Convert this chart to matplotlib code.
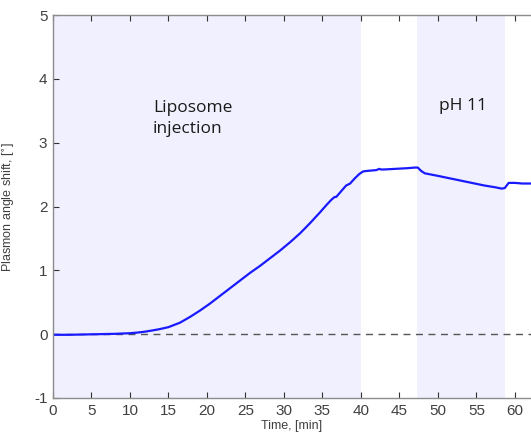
import numpy as np
import matplotlib
matplotlib.use("Agg")
import matplotlib.pyplot as plt

# plasmon angle shift trace, read in minutes / degrees
time_min = [0, 2, 4, 6, 8, 9, 10, 11, 12, 13, 13.9, 15, 16.5, 17.8, 19.1, 20.4, 21.7, 23.0,
            24.3, 25.6, 26.9, 28.2, 29.5, 30.8, 32.1, 33.4, 34.7, 35.5, 36.2, 36.6, 36.8,
            37.3, 37.8, 38.1, 38.6, 39.2, 39.8, 40.3, 41.0, 42.0, 42.4, 42.6, 43.0, 44.5,
            46.0, 47.0, 47.4, 47.8, 48.3, 50.0, 52.0, 54.0, 56.0, 57.5, 58.3, 58.7, 59.2,
            60.0, 61.0, 62.1]
shift_deg = [-0.01, -0.01, -0.005, 0.0, 0.005, 0.01, 0.015, 0.025, 0.04, 0.06, 0.08, 0.11,
             0.18, 0.27, 0.37, 0.48, 0.60, 0.72, 0.84, 0.96, 1.07, 1.19, 1.31, 1.44, 1.58,
             1.74, 1.91, 2.02, 2.11, 2.15, 2.15, 2.22, 2.29, 2.33, 2.36, 2.44, 2.51, 2.55,
             2.56, 2.57, 2.59, 2.58, 2.58, 2.59, 2.60, 2.61, 2.61, 2.56, 2.52, 2.48, 2.43,
             2.38, 2.33, 2.30, 2.28, 2.29, 2.37, 2.37, 2.36, 2.36]

# shaded phases: (start, end) in minutes
phases = [(0, 40.0), (47.3, 58.7)]
phase_labels = ["Liposome\ninjection", "pH 11"]

plt.rcParams["axes.unicode_minus"] = False

fig = plt.figure(figsize=(5.31, 4.43), dpi=100)
ax = fig.add_axes([0.0998, 0.1016, 0.9002, 0.8645])

for (x0, x1) in phases:
    ax.axvspan(x0, x1, color="#f0f0fe", lw=0, zorder=0)

ax.axhline(0, color="#555555", ls=(0, (5, 4)), lw=1.0, zorder=1)
ax.plot(time_min, shift_deg, color="#1a1aff", lw=1.6, zorder=2)

ax.text(13.0, 3.38, phase_labels[0], fontsize=12.5, family="Open Sans",
        color="#1a1a1a", ha="left", va="center", linespacing=1.45)
ax.text(53.3, 3.58, phase_labels[1], fontsize=12.5, family="Open Sans",
        color="#1a1a1a", ha="center", va="center")

ax.set_xlim(0, 62.1)
ax.set_ylim(-1, 5)
ax.set_xticks(np.arange(0, 61, 5))
ax.set_yticks(np.arange(-1, 6, 1))

for side in ["left", "top", "bottom"]:
    ax.spines[side].set_color("#8c8c8c")
    ax.spines[side].set_linewidth(1.0)
ax.spines["right"].set_visible(False)

ax.tick_params(direction="in", length=4, width=0.8, color="#333333",
               labelsize=11, labelcolor="#404040", top=True, pad=4,
               labelfontfamily="Liberation Sans")

ax.set_xlabel("Time, [min]", fontsize=9, family="Liberation Sans", color="#404040", labelpad=2)
ax.set_ylabel("Plasmon angle shift, [$^{\\circ}$]", fontsize=9, family="Liberation Sans",
              color="#404040", labelpad=12)

fig.savefig("out.png", dpi=100)
